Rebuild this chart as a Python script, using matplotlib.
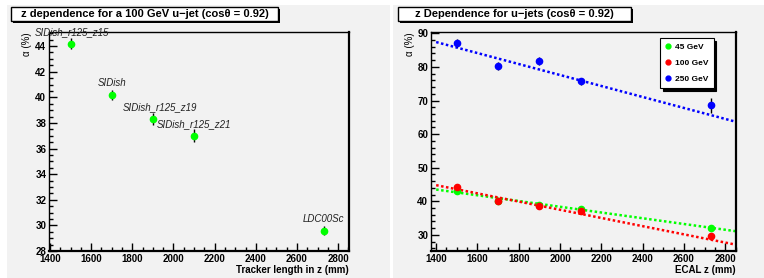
import numpy as np
import matplotlib
matplotlib.use("Agg")
import matplotlib.pyplot as plt
from matplotlib.patches import Rectangle
from matplotlib.ticker import MultipleLocator
from matplotlib.lines import Line2D

# left panel: 100 GeV u-jet, one point per detector model
tracker_z = [1500, 1700, 1900, 2100, 2730]
alpha_100 = [44.2, 40.2, 38.3, 37.0, 29.6]
alpha_100_err = [0.4, 0.4, 0.45, 0.5, 0.35]
models = ["SIDish_r125_z15", "SIDish", "SIDish_r125_z19", "SIDish_r125_z21", "LDC00Sc"]

# right panel: three jet energies vs ECAL z
ecal_z = [1500, 1700, 1900, 2100, 2730]
alpha_45 = [43.0, 40.0, 39.0, 37.7, 32.1]
alpha_45_err = [0.5, 0.5, 0.5, 0.5, 0.5]
alpha_100b = [44.3, 40.1, 38.5, 37.0, 29.7]
alpha_100b_err = [0.6, 0.5, 0.5, 0.6, 0.6]
alpha_250 = [87.2, 80.3, 81.8, 75.7, 68.6]
alpha_250_err = [1.2, 1.1, 1.1, 1.0, 2.2]

# linear fits (value at the two ends)
fit_x = [1400, 2850]
fit_45 = [43.5, 31.1]
fit_100 = [44.8, 27.1]
fit_250 = [87.4, 63.7]

W, H = 764, 278
bg = "#f2f2f2"
plt.rcParams["font.family"] = ["Liberation Sans", "DejaVu Sans"]

fig = plt.figure(figsize=(W / 100, H / 100), dpi=100)
fig.patch.set_facecolor("white")


def px_rect(x0, y0, x1, y1, **kw):
    # rectangle given in pixel coordinates from the top-left corner
    r = Rectangle((x0 / W, 1 - y1 / H), (x1 - x0) / W, (y1 - y0) / H,
                  transform=fig.transFigure, **kw)
    fig.patches.append(r)
    return r


px_rect(7, 5, 390, 278, facecolor=bg, edgecolor="none", zorder=-5)
px_rect(393, 5, 764, 278, facecolor=bg, edgecolor="none", zorder=-5)


def title_box(x0, x1, text):
    px_rect(x0 + 2, 9, x1 + 2, 23, facecolor="black", edgecolor="none", zorder=1)
    px_rect(x0, 7, x1, 21, facecolor="white", edgecolor="black", lw=1, zorder=2)
    fig.text((x0 + x1) / 2 / W, 1 - 14 / H, text, ha="center", va="center",
             fontsize=8, fontweight="bold", zorder=3)


title_box(11, 278, "z dependence for a 100 GeV u\u2212jet (cos\u03b8 = 0.92)")
title_box(398, 631, "z Dependence for u\u2212jets (cos\u03b8 = 0.92)")


def style_axes(ax, ymajor, yminor):
    ax.set_facecolor(bg)
    ax.xaxis.set_major_locator(MultipleLocator(200))
    ax.xaxis.set_minor_locator(MultipleLocator(50))
    ax.yaxis.set_major_locator(MultipleLocator(ymajor))
    ax.yaxis.set_minor_locator(MultipleLocator(yminor))
    ax.tick_params(which="both", direction="in", top=False, right=False,
                   width=1, labelsize=7, pad=2)
    ax.tick_params(which="major", length=6)
    ax.tick_params(which="minor", length=3)
    for lab in ax.get_xticklabels() + ax.get_yticklabels():
        lab.set_fontweight("bold")
    for s in ["right", "bottom"]:
        ax.spines[s].set_linewidth(1.6)
    for s in ["left", "top"]:
        ax.spines[s].set_linewidth(1.0)
    ax.set_ylabel("\u03b1 (%)", fontsize=7, loc="top", labelpad=2)


# ---- left panel
ax1 = fig.add_axes([49 / W, 1 - 251 / H, 300 / W, 219 / H])
ax1.errorbar(tracker_z, alpha_100, yerr=alpha_100_err, fmt="o", color="#00ff00",
             ms=4.5, mec="#00ff00", ecolor="black", elinewidth=1, capsize=0, zorder=3)
label_dx = [1, 0, 7, 0, 0]
for xv, yv, name, dx in zip(tracker_z, alpha_100, models, label_dx):
    ax1.annotate(name, (xv, yv), xytext=(dx * 0.72, 8.5), textcoords="offset points",
                 ha="center", va="center", fontsize=7, style="italic", color="#222222")
ax1.set_xlim(1395, 2853)
ax1.set_ylim(28, 45.1)
style_axes(ax1, 2, 0.5)
ax1.set_xlabel("Tracker length in z (mm)", fontsize=7, fontweight="bold",
               loc="right", labelpad=1)

# ---- right panel
ax2 = fig.add_axes([431 / W, 1 - 251 / H, 305 / W, 219 / H])
series = [
    (alpha_45, alpha_45_err, fit_45, "#00ff00", "45 GeV"),
    (alpha_100b, alpha_100b_err, fit_100, "#ff0000", "100 GeV"),
    (alpha_250, alpha_250_err, fit_250, "#0000ff", "250 GeV"),
]
for vals, errs, fit, col, lab in series:
    ax2.plot(fit_x, fit, color=col, lw=1.8, ls=(0, (1, 1)), zorder=2)
    ax2.errorbar(ecal_z, vals, yerr=errs, fmt="o", color=col, mec=col, ms=4.5,
                 ecolor="black", elinewidth=1, capsize=0, zorder=3)
ax2.set_xlim(1375, 2852)
ax2.set_ylim(25.2, 90.4)
style_axes(ax2, 10, 2)
ax2.set_xlabel("ECAL z (mm)", fontsize=7, fontweight="bold", loc="right", labelpad=1)

handles = [Line2D([], [], ls="none", marker="o", ms=3.5, color=c) for _, _, _, c, _ in series]
leg = ax2.legend(handles, [s[4] for s in series], loc="upper left",
                 bbox_to_anchor=((660 - 431) / 305, (251 - 38) / 219),
                 borderaxespad=0, frameon=True, fancybox=False, framealpha=1,
                 edgecolor="black", handlelength=0.6, handletextpad=0.6,
                 labelspacing=1.0, borderpad=0.6,
                 shadow={"color": "black", "alpha": 1},
                 prop={"weight": "bold", "size": 6})
leg.get_frame().set_linewidth(0.8)

fig.savefig("out.png", dpi=100, facecolor=fig.get_facecolor())
